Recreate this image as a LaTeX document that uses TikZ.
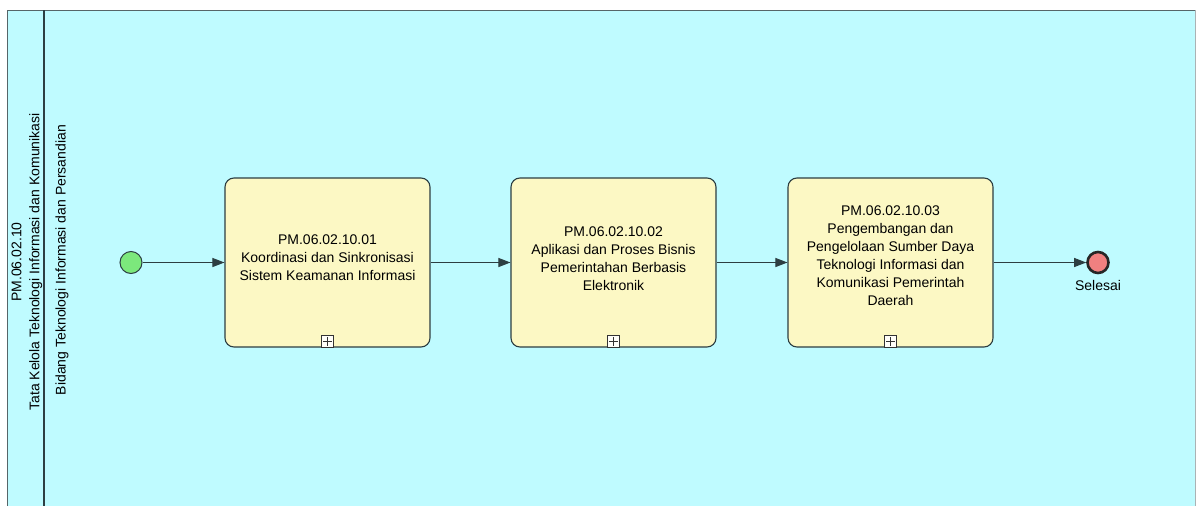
\documentclass[tikz,border=0pt]{standalone}
\usepackage{fontspec}
\setmainfont{Liberation Sans}
\usetikzlibrary{
  arrows.meta,
  positioning,
  calc
}
\definecolor{kolam}{RGB}{191,251,255}
\definecolor{kotak}{RGB}{252,248,196}
\definecolor{garis}{RGB}{44,62,66}
\definecolor{hijau}{RGB}{124,232,124}
\definecolor{merah}{RGB}{240,128,128}

\begin{document}
\begin{tikzpicture}[
      x=1pt, y={(0pt,-1pt)},
      >={Triangle[length=12pt,width=9pt]},
      subproses/.style={draw=garis, line width=1.1pt, fill=kotak, rounded corners=9pt,
        minimum width=205pt, minimum height=169pt},
      teks/.style={align=center, font=\fontsize{14}{18}\selectfont},
      alur/.style={->, draw=garis, line width=1pt},
      mulai/.style={circle, draw=garis, line width=1pt, fill=hijau, minimum size=22pt, inner sep=0pt},
      selesai/.style={circle, draw=black!85, line width=2.6pt, fill=merah, minimum size=21pt, inner sep=0pt}
  ]
      \useasboundingbox (0,0) rectangle (1196,506);

      % Kolam dan jalur
      \fill[kolam] (7,10) rectangle (1196,506);
      \draw[garis!80, line width=1pt] (7,506) -- (7,10) -- (1196,10);
      \draw[garis!40, line width=0.6pt] (1195,10) -- (1195,506);
      \draw[garis, line width=2.5pt] (44,10) -- (44,506);

      % Label kolam dan jalur
      \node[teks, rotate=90] (kolam) at (27,262) {PM.06.02.10\\Tata Kelola Teknologi Informasi dan Komunikasi};
      \node[teks, rotate=90] (jalur) at (62,260) {Bidang Teknologi Informasi dan Persandian};

      % Kejadian awal dan akhir
      \node[mulai] (awal) at (131,262.5) {};
      \node[selesai] (akhir) at (1098,262.5) {};
      \node[teks, below=3pt of akhir] (lblakhir) {Selesai};

      % Sub-proses
      \node[subproses] (t1) at (327.5,262.5) {};
      \node[subproses] (t2) at (613.5,262.5) {};
      \node[subproses] (t3) at (890.5,262.5) {};

      \node[teks] (teks1) at ([yshift=5pt]t1.center) {PM.06.02.10.01\\Koordinasi dan Sinkronisasi\\Sistem Keamanan Informasi};
      \node[teks] (teks2) at ([yshift=4pt]t2.center) {PM.06.02.10.02\\Aplikasi dan Proses Bisnis\\Pemerintahan Berbasis\\Elektronik};
      \node[teks] (teks3) at ([yshift=7pt]t3.center) {PM.06.02.10.03\\Pengembangan dan\\Pengelolaan Sumber Daya\\Teknologi Informasi dan\\Komunikasi Pemerintah\\Daerah};

      % Tanda plus sub-proses
      \foreach \t in {t1,t2,t3} {
          \draw[black!80, line width=0.9pt, fill=white!90!kotak]
              ([xshift=-6pt]\t.south) rectangle ([xshift=6pt,yshift=12pt]\t.south);
          \draw[black!80, line width=0.9pt]
              ([yshift=1.5pt]\t.south) -- ([yshift=10.5pt]\t.south)
              ([xshift=-4.5pt,yshift=6pt]\t.south) -- ([xshift=4.5pt,yshift=6pt]\t.south);
      }

      % Alur urutan
      \draw[alur] (awal) -- (t1);
      \draw[alur] (t1) -- (t2);
      \draw[alur] (t2) -- (t3);
      \draw[alur] (t3) -- (akhir);

  \end{tikzpicture}
\end{document}
